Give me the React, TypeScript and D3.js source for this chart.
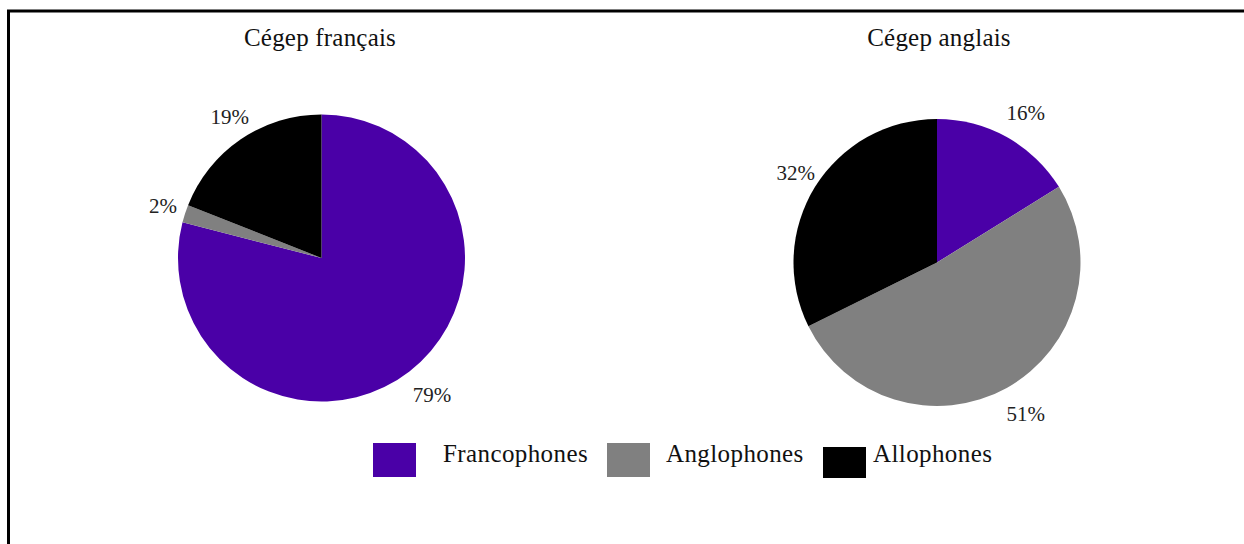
import React from "react";
import * as d3 from "d3";

const categories = ["Francophones", "Anglophones", "Allophones"];
const francaisValues = [79, 2, 19];
const anglaisValues = [16, 51, 32];
const chartTitles = ["Cégep français", "Cégep anglais"];
const colors = ["#4a00a7", "#808080", "#000000"];

const W = 1244;
const H = 544;
const FONT = "'Liberation Serif', 'Times New Roman', serif";

function Pie({ values, cx, cy, title, titleX }: { values: number[]; cx: number; cy: number; title: string; titleX: number }) {
  const pie = d3.pie<number>().sort(null).value((d) => d);
  const arcs = pie(values);
  const r = 143.5;
  const arc = d3.arc<d3.PieArcDatum<number>>().innerRadius(0).outerRadius(r);
  const labelArc = d3.arc<d3.PieArcDatum<number>>().innerRadius(172).outerRadius(172);
  return (
    <g>
      <text x={titleX} y={46} textAnchor="middle" fontFamily={FONT} fontSize={25} letterSpacing={0.2} fill="#111">
        {title}
      </text>
      <g transform={`translate(${cx},${cy})`}>
        {arcs.map((a, i) => (
          <path key={i} d={arc(a) || ""} fill={colors[i]} />
        ))}
        {arcs.map((a, i) => {
          const [x, y] = labelArc.centroid(a);
          return (
            <text key={"l" + i} x={x + 5} y={y + 1} textAnchor="middle" dominantBaseline="central" fontFamily={FONT} fontSize={21} fill="#222">
              {`${values[i]}%`}
            </text>
          );
        })}
      </g>
    </g>
  );
}

export default function App() {
  const legendX = [373, 607, 823];
  const legendTextX = [443, 666, 873];
  return (
    <svg width={W} height={H} style={{ position: "absolute", left: 0, top: 0, background: "#fff" }}>
      <rect x={8.5} y={11} width={W + 20} height={H + 20} fill="#fff" stroke="#000" strokeWidth={3} />
      <Pie values={francaisValues} cx={321.5} cy={258} title={chartTitles[0]} titleX={320} />
      <Pie values={anglaisValues} cx={937} cy={262.5} title={chartTitles[1]} titleX={939} />
      {categories.map((c, i) => (
        <g key={c}>
          <rect x={legendX[i]} y={i === 2 ? 447 : 443} width={43} height={i === 2 ? 31 : 34} fill={colors[i]} />
          <text x={legendTextX[i]} y={462} fontFamily={FONT} fontSize={25} letterSpacing={0.4} fill="#111">
            {c}
          </text>
        </g>
      ))}
    </svg>
  );
}
